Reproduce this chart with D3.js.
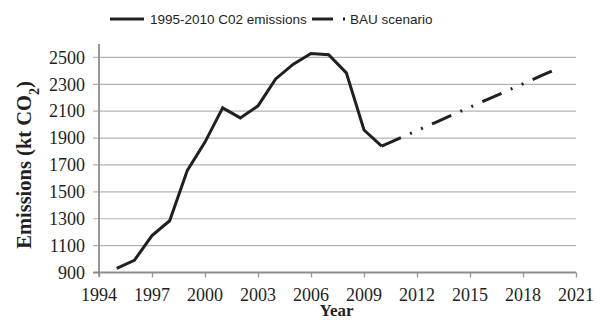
<!DOCTYPE html>
<html>
<head>
<meta charset="utf-8">
<script src="https://cdn.jsdelivr.net/npm/d3@7"></script>
<style>
  html, body { margin: 0; padding: 0; background: #fff; }
  svg { display: block; }
  text.serif { font-family: "Liberation Serif", "Times New Roman", serif; }
  text.sans { font-family: "Liberation Sans", Arial, sans-serif; }
  text.tick-label { font-size: 18px; }
</style>
</head>
<body>
<svg id="chart" width="602" height="331"></svg>
<script>
// Historical emissions, 1995-2010 (kt CO2)
const histYears = [1995, 1996, 1997, 1998, 1999, 2000, 2001, 2002, 2003, 2004, 2005, 2006, 2007, 2008, 2009, 2010];
const histValues = [930, 990, 1175, 1285, 1660, 1870, 2125, 2050, 2140, 2340, 2450, 2530, 2520, 2385, 1960, 1840];

// Business-as-usual projection, 2010-2020 (kt CO2)
const bauYears = [2010, 2011, 2012, 2013, 2014, 2015, 2016, 2017, 2018, 2019, 2020];
const bauValues = [1840, 1898, 1956, 2014, 2072, 2130, 2188, 2246, 2304, 2362, 2420];

// Axis ticks
const xTicks = [1994, 1997, 2000, 2003, 2006, 2009, 2012, 2015, 2018, 2021];
const yTicks = [900, 1100, 1300, 1500, 1700, 1900, 2100, 2300, 2500];

const seriesNames = ["1995-2010 C02 emissions", "BAU scenario"];

(function draw() {
  const svg = d3.select("#chart");
  const plotLeft = 99, plotRight = 576, plotTop = 44, plotBottom = 272.5;

  const x = d3.scaleLinear().domain([1994, 2021]).range([plotLeft, plotRight]);
  const y = d3.scaleLinear().domain([900, 2600]).range([plotBottom, plotTop]);

  const ink = "#231f20";
  const dashPattern = "21,10,2,10,2,10";

  // Horizontal gridlines (extending left of the axis as tick marks)
  svg.append("g")
    .selectAll("line")
    .data(yTicks)
    .join("line")
    .attr("x1", plotLeft - 6).attr("x2", plotRight)
    .attr("y1", d => y(d)).attr("y2", d => y(d))
    .attr("stroke", "#b3b3b3")
    .attr("stroke-width", 1.2);

  // Y tick labels
  svg.append("g")
    .selectAll("text")
    .data(yTicks)
    .join("text")
    .attr("class", "serif tick-label")
    .attr("x", plotLeft - 14)
    .attr("y", d => y(d) + 6.2)
    .attr("text-anchor", "end")
    .attr("fill", ink)
    .text(d3.format("d"));

  // X tick marks and labels
  const xAxis = svg.append("g")
    .attr("transform", `translate(0,${plotBottom})`)
    .call(d3.axisBottom(x).tickValues(xTicks).tickSize(5).tickFormat(""));
  xAxis.select(".domain").remove();
  xAxis.selectAll(".tick line").attr("stroke", "#9a9a9a").attr("stroke-width", 1.3);

  svg.append("g")
    .selectAll("text")
    .data(xTicks)
    .join("text")
    .attr("class", "serif tick-label")
    .attr("x", d => x(d))
    .attr("y", 300.5)
    .attr("text-anchor", "middle")
    .attr("fill", ink)
    .text(d3.format("d"));

  // Axis lines
  svg.append("line")
    .attr("x1", plotLeft).attr("x2", plotLeft)
    .attr("y1", plotTop).attr("y2", plotBottom + 4)
    .attr("stroke", "#8c8c8c").attr("stroke-width", 1.8);
  svg.append("line")
    .attr("x1", plotLeft - 6).attr("x2", plotRight)
    .attr("y1", plotBottom).attr("y2", plotBottom)
    .attr("stroke", "#8c8c8c").attr("stroke-width", 1.8);

  // Series lines
  const line = d3.line().x(d => x(d[0])).y(d => y(d[1]));

  svg.append("path")
    .datum(bauYears.map((yr, i) => [yr, bauValues[i]]))
    .attr("d", line)
    .attr("fill", "none")
    .attr("stroke", ink)
    .attr("stroke-width", 3)
    .attr("stroke-dasharray", dashPattern);

  svg.append("path")
    .datum(histYears.map((yr, i) => [yr, histValues[i]]))
    .attr("d", line)
    .attr("fill", "none")
    .attr("stroke", ink)
    .attr("stroke-width", 3)
    .attr("stroke-linejoin", "miter");

  // Axis titles
  svg.append("text")
    .attr("class", "serif")
    .attr("x", (plotLeft + plotRight) / 2 - 1)
    .attr("y", 316)
    .attr("text-anchor", "middle")
    .style("font-weight", "bold")
    .style("font-size", "17px")
    .attr("fill", ink)
    .text("Year");

  const yTitle = svg.append("text")
    .attr("class", "serif")
    .attr("transform", "translate(30.5,165) rotate(-90)")
    .attr("text-anchor", "middle")
    .style("font-weight", "bold")
    .style("font-size", "20.5px")
    .attr("fill", ink);
  yTitle.append("tspan").text("Emissions (kt CO");
  yTitle.append("tspan").attr("baseline-shift", "sub").style("font-size", "14px").text("2");
  yTitle.append("tspan").text(")");

  // Legend
  const legend = svg.append("g");
  legend.append("line")
    .attr("x1", 110).attr("x2", 144).attr("y1", 19).attr("y2", 19)
    .attr("stroke", ink).attr("stroke-width", 3);
  legend.append("text")
    .attr("class", "sans")
    .attr("x", 150).attr("y", 23.5)
    .style("font-size", "13.5px").attr("fill", ink)
    .text(seriesNames[0]);
  legend.append("line")
    .attr("x1", 312).attr("x2", 345).attr("y1", 19).attr("y2", 19)
    .attr("stroke", ink).attr("stroke-width", 3)
    .attr("stroke-dasharray", dashPattern);
  legend.append("text")
    .attr("class", "sans")
    .attr("x", 350).attr("y", 23.5)
    .style("font-size", "13.5px").attr("fill", ink)
    .text(seriesNames[1]);
})();
</script>
</body>
</html>
